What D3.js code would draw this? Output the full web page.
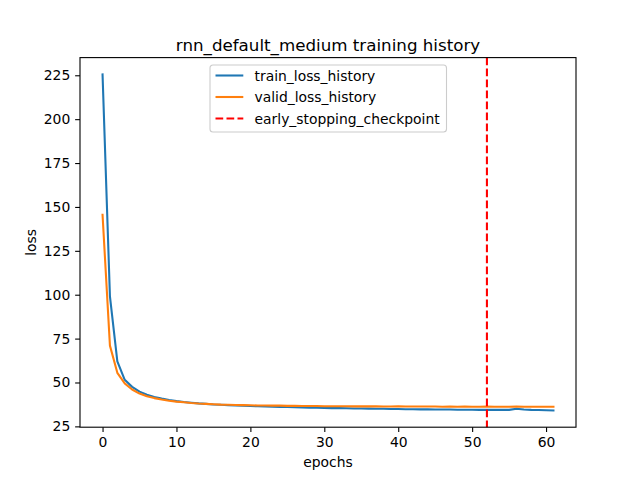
<!DOCTYPE html>
<html>
<head>
  <title>rnn_default_medium training history</title>
</head>
<style>
  body { margin: 0; background: white; }
  text { font-family: "DejaVu Sans", sans-serif; fill: black; }
</style>
<body>
  <script src="https://d3js.org/d3.v7.min.js"></script>
  <script>
    // loss per epoch
    const train_loss = [225.5, 99, 62, 51.5, 47.5, 44.8, 43, 41.7, 40.8, 40.0,
      39.4, 38.9, 38.5, 38.1, 37.8, 37.5, 37.3, 37.1, 36.9, 36.8,
      36.6, 36.5, 36.3, 36.2, 36.1, 36.0, 35.9, 35.8, 35.7, 35.6,
      35.5, 35.4, 35.4, 35.3, 35.2, 35.2, 35.1, 35.0, 35.0, 34.9,
      34.9, 34.8, 34.8, 34.7, 34.7, 34.6, 34.6, 34.6, 34.5, 34.5,
      34.5, 34.4, 34.4, 34.4, 34.4, 34.4, 35.0, 34.6, 34.4, 34.3,
      34.2, 34.1];
    const valid_loss = [145.5, 71, 55.5, 49.5, 46, 43.7, 42.2, 41.1, 40.3, 39.6,
      39.1, 38.7, 38.3, 38.0, 37.8, 37.6, 37.4, 37.3, 37.2, 37.1,
      37.0, 36.9, 36.9, 36.8, 36.8, 36.7, 36.7, 36.6, 36.6, 36.6,
      36.5, 36.5, 36.5, 36.5, 36.4, 36.4, 36.4, 36.4, 36.3, 36.3,
      36.4, 36.3, 36.3, 36.3, 36.3, 36.3, 36.2, 36.3, 36.2, 36.3,
      36.2, 36.2, 36.3, 36.2, 36.2, 36.2, 36.3, 36.2, 36.2, 36.2,
      36.2, 36.2];
    const checkpoint = 52;
    const x_ticks = [0, 10, 20, 30, 40, 50, 60];
    const y_ticks = [25, 50, 75, 100, 125, 150, 175, 200, 225];
    const series_names = ["train_loss_history", "valid_loss_history", "early_stopping_checkpoint"];

    const w = 640, h = 480;
    const m_left = 80, m_right = 576, m_top = 57.6, m_bottom = 427.2;

    const svg = d3.select("body").append("svg")
      .attr("width", w).attr("height", h);

    // matplotlib style 5% margins
    const n = train_loss.length;
    const xpad = (n - 1) * 0.05;
    const all = train_loss.concat(valid_loss);
    const [lo, hi] = d3.extent(all);
    const ypad = (hi - lo) * 0.05;

    const x = d3.scaleLinear().domain([-xpad, n - 1 + xpad]).range([m_left, m_right]);
    const y = d3.scaleLinear().domain([lo - ypad, hi + ypad]).range([m_bottom, m_top]);

    const line = d3.line().x((d, i) => x(i)).y(d => y(d));

    const plot = svg.append("g");
    plot.append("path").datum(train_loss)
      .attr("d", line).attr("fill", "none")
      .attr("stroke", "#1f77b4").attr("stroke-width", 2.08)
      .attr("stroke-linejoin", "round").attr("stroke-linecap", "square");
    plot.append("path").datum(valid_loss)
      .attr("d", line).attr("fill", "none")
      .attr("stroke", "#ff7f0e").attr("stroke-width", 2.08)
      .attr("stroke-linejoin", "round").attr("stroke-linecap", "square");
    plot.append("line")
      .attr("x1", x(checkpoint)).attr("x2", x(checkpoint))
      .attr("y1", m_top).attr("y2", m_bottom)
      .attr("stroke", "red").attr("stroke-width", 2.08)
      .attr("stroke-dasharray", "7.7,3.3");

    // axes
    const xAxis = svg.append("g").attr("transform", "translate(0," + m_bottom + ")")
      .call(d3.axisBottom(x).tickValues(x_ticks).tickSize(4.86).tickPadding(4.86).tickFormat(d3.format("d")));
    const yAxis = svg.append("g").attr("transform", "translate(" + m_left + ",0)")
      .call(d3.axisLeft(y).tickValues(y_ticks).tickSize(4.86).tickPadding(4.86).tickFormat(d3.format("d")));
    [xAxis, yAxis].forEach(a => {
      a.select(".domain").remove();
      a.selectAll("line").attr("stroke", "black").attr("stroke-width", 1.1);
      a.selectAll("text").attr("font-size", "13.9px").attr("font-family", "DejaVu Sans").attr("fill", "black");
    });

    // frame
    svg.append("rect")
      .attr("x", m_left).attr("y", m_top)
      .attr("width", m_right - m_left).attr("height", m_bottom - m_top)
      .attr("fill", "none").attr("stroke", "black").attr("stroke-width", 1.1);

    svg.append("text").attr("x", (m_left + m_right) / 2).attr("y", 50.5)
      .attr("text-anchor", "middle").attr("font-size", "16.7px")
      .text("rnn_default_medium training history");
    svg.append("text").attr("x", (m_left + m_right) / 2).attr("y", 467)
      .attr("text-anchor", "middle").attr("font-size", "13.9px")
      .text("epochs");
    svg.append("text")
      .attr("transform", "translate(36," + (m_top + m_bottom) / 2 + ") rotate(-90)")
      .attr("text-anchor", "middle").attr("font-size", "13.9px")
      .text("loss");

    // legend
    const leg = svg.append("g").attr("transform", "translate(210,65)");
    leg.append("rect").attr("width", 236.5).attr("height", 67)
      .attr("rx", 3).attr("fill", "white").attr("fill-opacity", 0.8)
      .attr("stroke", "#cccccc").attr("stroke-width", 1.1);
    const sty = [
      { c: "#1f77b4", dash: null },
      { c: "#ff7f0e", dash: null },
      { c: "red", dash: "7.7,3.3" }
    ];
    series_names.forEach((name, i) => {
      const yy = 10.5 + i * 21.5;
      leg.append("line").attr("x1", 5.5).attr("x2", 33.3).attr("y1", yy).attr("y2", yy)
        .attr("stroke", sty[i].c).attr("stroke-width", 2.08)
        .attr("stroke-dasharray", sty[i].dash);
      leg.append("text").attr("x", 44.5).attr("y", yy + 5)
        .attr("font-size", "13.9px").text(name);
    });
  </script>
</body>
</html>
